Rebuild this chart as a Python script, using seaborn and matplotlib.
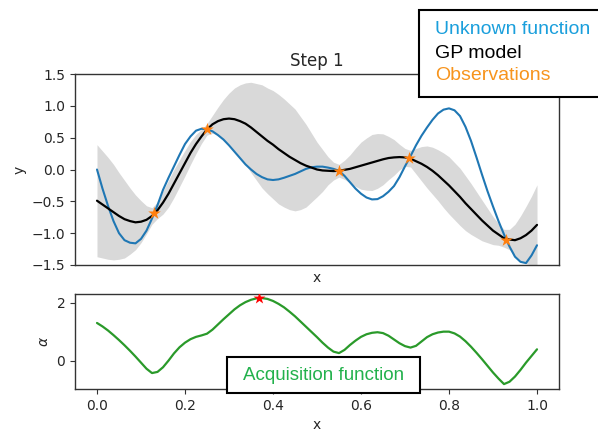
import numpy as np
import pandas as pd
import matplotlib
matplotlib.use("Agg")
import matplotlib.pyplot as plt
from matplotlib.patches import Rectangle
import seaborn as sns

# ---- data ----
x_grid = [0.0000, 0.0125, 0.0250, 0.0375, 0.0500, 0.0625, 0.0750, 0.0875,
          0.1000, 0.1125, 0.1250, 0.1375, 0.1500, 0.1625, 0.1750, 0.1875,
          0.2000, 0.2125, 0.2250, 0.2375, 0.2500, 0.2625, 0.2750, 0.2875,
          0.3000, 0.3125, 0.3250, 0.3375, 0.3500, 0.3625, 0.3750, 0.3875,
          0.4000, 0.4125, 0.4250, 0.4375, 0.4500, 0.4625, 0.4750, 0.4875,
          0.5000, 0.5125, 0.5250, 0.5375, 0.5500, 0.5625, 0.5750, 0.5875,
          0.6000, 0.6125, 0.6250, 0.6375, 0.6500, 0.6625, 0.6750, 0.6875,
          0.7000, 0.7125, 0.7250, 0.7375, 0.7500, 0.7625, 0.7750, 0.7875,
          0.8000, 0.8125, 0.8250, 0.8375, 0.8500, 0.8625, 0.8750, 0.8875,
          0.9000, 0.9125, 0.9250, 0.9375, 0.9500, 0.9625, 0.9750, 0.9875,
          1.0000]

unknown_fn = [0.00, -0.30, -0.57, -0.81, -1.00, -1.11, -1.15, -1.16,
              -1.09, -0.96, -0.77, -0.56, -0.32, -0.13, 0.05, 0.23,
              0.40, 0.52, 0.61, 0.64, 0.63, 0.60, 0.54, 0.47,
              0.38, 0.28, 0.18, 0.08, 0.00, -0.07, -0.12, -0.155,
              -0.165, -0.155, -0.13, -0.10, -0.07, -0.03, 0.01, 0.035,
              0.045, 0.045, 0.03, 0.01, -0.02, -0.10, -0.20, -0.30,
              -0.38, -0.44, -0.47, -0.465, -0.42, -0.35, -0.26, -0.12,
              0.05, 0.21, 0.38, 0.53, 0.66, 0.78, 0.88, 0.94,
              0.96, 0.93, 0.84, 0.67, 0.45, 0.19, -0.08, -0.34,
              -0.58, -0.81, -1.02, -1.21, -1.37, -1.45, -1.47, -1.35,
              -1.19]

gp_mean = [-0.49, -0.55, -0.61, -0.67, -0.73, -0.78, -0.81, -0.83,
           -0.82, -0.79, -0.73, -0.64, -0.52, -0.38, -0.22, -0.06,
           0.10, 0.26, 0.40, 0.52, 0.63, 0.71, 0.76, 0.79,
           0.80, 0.79, 0.76, 0.72, 0.66, 0.59, 0.52, 0.45,
           0.39, 0.32, 0.26, 0.20, 0.15, 0.10, 0.06, 0.03,
           0.00, -0.015, -0.02, -0.025, -0.02, -0.005, 0.01, 0.035,
           0.06, 0.085, 0.11, 0.135, 0.16, 0.18, 0.19, 0.195,
           0.19, 0.17, 0.13, 0.09, 0.04, -0.02, -0.09, -0.17,
           -0.25, -0.34, -0.43, -0.53, -0.62, -0.71, -0.80, -0.88,
           -0.96, -1.02, -1.08, -1.10, -1.11, -1.08, -1.03, -0.96,
           -0.87]

gp_halfwidth = [0.88, 0.84, 0.80, 0.75, 0.68, 0.61, 0.52, 0.43,
                0.33, 0.22, 0.13, 0.13, 0.18, 0.21, 0.22, 0.21,
                0.20, 0.18, 0.15, 0.11, 0.09, 0.14, 0.22, 0.31,
                0.40, 0.49, 0.57, 0.64, 0.71, 0.76, 0.81, 0.83,
                0.85, 0.86, 0.85, 0.83, 0.80, 0.73, 0.65, 0.54,
                0.43, 0.33, 0.22, 0.14, 0.10, 0.15, 0.22, 0.30,
                0.37, 0.41, 0.44, 0.43, 0.40, 0.34, 0.28, 0.20,
                0.14, 0.13, 0.20, 0.27, 0.33, 0.37, 0.40, 0.43,
                0.45, 0.45, 0.45, 0.43, 0.40, 0.36, 0.32, 0.27,
                0.22, 0.17, 0.14, 0.16, 0.25, 0.35, 0.45, 0.54,
                0.63]

obs_x = [0.130, 0.250, 0.551, 0.710, 0.930]
obs_y = [-0.68, 0.64, -0.02, 0.185, -1.10]

acq = [1.31, 1.19, 1.05, 0.89, 0.72, 0.54, 0.35, 0.15,
       -0.06, -0.27, -0.42, -0.38, -0.22, 0.01, 0.26, 0.47,
       0.63, 0.75, 0.83, 0.88, 0.94, 1.08, 1.26, 1.44,
       1.61, 1.78, 1.92, 2.03, 2.11, 2.16, 2.17, 2.14,
       2.07, 1.97, 1.85, 1.70, 1.54, 1.36, 1.18, 1.00,
       0.82, 0.63, 0.46, 0.32, 0.27, 0.38, 0.55, 0.70,
       0.83, 0.92, 0.97, 0.99, 0.96, 0.87, 0.74, 0.61,
       0.51, 0.46, 0.52, 0.67, 0.82, 0.92, 0.98, 1.01,
       1.01, 0.95, 0.84, 0.68, 0.49, 0.28, 0.06, -0.17,
       -0.40, -0.61, -0.80, -0.72, -0.54, -0.31, -0.06, 0.17,
       0.40]

next_x = [0.369]
next_a = [2.17]

title = "Step 1"
legend_labels = ["Unknown function", "GP model", "Observations"]
legend_colors = ["#1a9fdc", "#000000", "#f7941d"]
acq_label = "Acquisition function"
acq_label_color = "#22b14c"
top_yticks = [-1.5, -1.0, -0.5, 0.0, 0.5, 1.0, 1.5]
bottom_xticks = [0.0, 0.2, 0.4, 0.6, 0.8, 1.0]
bottom_yticks = [0, 2]

# ---- plotting ----
sns.set_style("ticks", {"axes.edgecolor": "0.2"})
plt.rcParams["font.family"] = ["DejaVu Sans"]

df = pd.DataFrame({"x": x_grid, "f": unknown_fn, "mu": gp_mean,
                   "hw": gp_halfwidth, "a": acq})
lower = df["mu"] - df["hw"]
upper = df["mu"] + df["hw"]

fig = plt.figure(figsize=(5.98, 4.33), dpi=100)
ax1 = fig.add_axes([75 / 598, 1 - 265 / 433, 484 / 598, 191 / 433])
ax2 = fig.add_axes([75 / 598, 1 - 389 / 433, 484 / 598, 95 / 433])

ax1.fill_between(df["x"], lower, upper, color="#d9d9d9", linewidth=0, zorder=1)
sns.lineplot(data=df, x="x", y="f", ax=ax1, color="#1f77b4", linewidth=1.5,
             estimator=None, sort=False, zorder=2)
sns.lineplot(data=df, x="x", y="mu", ax=ax1, color="black", linewidth=1.6,
             estimator=None, sort=False, zorder=3)
sns.scatterplot(x=obs_x, y=obs_y, ax=ax1, marker="*", color="#ff7f0e",
                s=90, linewidth=0, zorder=4)
ax1.set_ylim(-1.5, 1.5)
ax1.set_xlim(-0.05, 1.05)
ax1.set_yticks(top_yticks)
ax1.set_xticks([])
ax1.set_xlabel("x", fontsize=10)
ax1.set_ylabel("y", fontsize=10)
ax1.set_title(title, fontsize=12)
ax1.tick_params(labelsize=10, direction="out", length=3.5, color="0.2")

sns.lineplot(data=df, x="x", y="a", ax=ax2, color="#2a9a2a", linewidth=1.6,
             estimator=None, sort=False)
sns.scatterplot(x=next_x, y=next_a, ax=ax2, marker="*", color="red",
                s=80, linewidth=0, zorder=5)
ax2.set_xlim(-0.05, 1.05)
ax2.set_ylim(-0.97, 2.31)
ax2.set_xticks(bottom_xticks)
ax2.set_yticks(bottom_yticks)
ax2.set_xlabel("x", fontsize=10)
ax2.set_ylabel(r"$\alpha$", fontsize=10)
ax2.tick_params(labelsize=10, direction="out", length=3.5, color="0.2")

for ax in (ax1, ax2):
    for s in ax.spines.values():
        s.set_visible(True)
        s.set_linewidth(1.0)

# legend-like box (top right, runs off the figure edge)
fig.patches.append(Rectangle((419 / 598, 1 - 97 / 433), 0.4, 87 / 433,
                             transform=fig.transFigure, facecolor="white",
                             edgecolor="black", linewidth=1.5, zorder=10))
for lab, col, yp in zip(legend_labels, legend_colors, [29, 53, 76]):
    fig.text(435 / 598, 1 - yp / 433, lab, color=col, fontsize=14,
             family=["Liberation Sans", "DejaVu Sans"], ha="left", va="center",
             zorder=11)

# acquisition function label box
fig.patches.append(Rectangle((227 / 598, 1 - 393 / 433), 193 / 598, 36 / 433,
                             transform=fig.transFigure, facecolor="white",
                             edgecolor="black", linewidth=1.5, zorder=10))
fig.text(323.5 / 598, 1 - 375 / 433, acq_label, color=acq_label_color,
         fontsize=13.5, family=["Liberation Sans", "DejaVu Sans"],
         ha="center", va="center", zorder=11)

fig.savefig("out.png", dpi=100)
